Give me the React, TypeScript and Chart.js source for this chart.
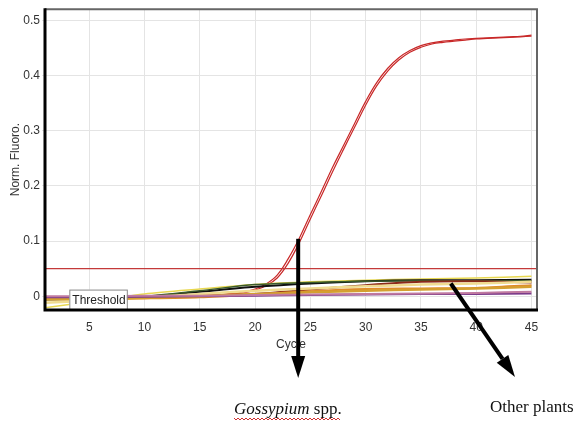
import React, { useEffect, useRef } from "react";
import Chart from "chart.js/auto";

const redCycles = [1,2,3,4,5,6,7,8,9,10,11,12,13,14,15,16,17,18,19,20,21,22,23,24,25,26,27,28,29,30,31,32,33,34,35,36,37,38,39,40,41,42,43,44,45];
const gossypiumA = [-0.004,-0.004,-0.004,-0.003,-0.003,-0.003,-0.002,-0.002,-0.002,-0.001,-0.001,-0.001,0,0,0.001,0.002,0.003,0.005,0.008,0.013,0.022,0.038,0.068,0.105,0.148,0.19,0.233,0.273,0.313,0.353,0.387,0.413,0.432,0.445,0.454,0.459,0.462,0.464,0.466,0.467,0.468,0.469,0.47,0.471,0.473];
const gossypiumB = [-0.005,-0.005,-0.004,-0.004,-0.003,-0.003,-0.003,-0.002,-0.002,-0.002,-0.001,-0.001,0,0,0.001,0.001,0.002,0.004,0.006,0.011,0.019,0.033,0.06,0.097,0.14,0.182,0.225,0.266,0.306,0.346,0.381,0.408,0.428,0.442,0.451,0.457,0.46,0.462,0.464,0.466,0.467,0.468,0.469,0.47,0.471];

const baseCycles = [1, 5, 10, 15, 20, 25, 30, 35, 40, 45];
const plantYellow = [-0.021, -0.01, 0.004, 0.013, 0.021, 0.026, 0.029, 0.031, 0.033, 0.036];
const plantBlack = [-0.006, -0.004, -0.001, 0.008, 0.017, 0.023, 0.027, 0.029, 0.029, 0.03];
const plantGreen = [-0.005, -0.003, 0.0, 0.01, 0.021, 0.025, 0.027, 0.028, 0.028, 0.028];
const plantBrown = [-0.003, -0.003, -0.002, 0.0, 0.004, 0.012, 0.02, 0.026, 0.027, 0.025];
const plantOrange = [-0.004, -0.005, -0.004, -0.002, 0.003, 0.009, 0.013, 0.014, 0.015, 0.02];
const plantGold = [-0.006, -0.005, -0.003, 0.0, 0.004, 0.007, 0.01, 0.012, 0.014, 0.017];
const plantPale = [-0.012, -0.008, -0.002, 0.004, 0.01, 0.014, 0.018, 0.021, 0.023, 0.026];
const plantPurple = [-0.002, -0.002, -0.001, 0.0, 0.001, 0.002, 0.003, 0.004, 0.004, 0.005];
const plantMauve = [0.0, 0.0, 0.001, 0.001, 0.002, 0.003, 0.004, 0.005, 0.006, 0.008];

const thresholdCycles = [1, 45.5];
const thresholdValue = 0.05;

const xTicks = [5, 10, 15, 20, 25, 30, 35, 40, 45];
const yTicks = [0, 0.1, 0.2, 0.3, 0.4, 0.5];
const yTickLabels = ["0", "0.1", "0.2", "0.3", "0.4", "0.5"];

const pts = (xs: number[], ys: number[]) => xs.map((x, i) => ({ x, y: ys[i] }));

const overlayPlugin = {
  id: "overlay",
  afterDatasetsDraw(chart: any) {
    const { ctx, chartArea: a, scales } = chart;
    const xs = scales.x, ys = scales.y;
    ctx.save();
    // Threshold label box
    const bx = xs.getPixelForValue(3.2);
    const bx2 = xs.getPixelForValue(8.4);
    const by = ys.getPixelForValue(0.012);
    ctx.fillStyle = "#ffffff";
    ctx.fillRect(bx, by, bx2 - bx, 20);
    ctx.strokeStyle = "#888";
    ctx.lineWidth = 1;
    ctx.strokeRect(bx + 0.5, by + 0.5, bx2 - bx, 20);
    ctx.fillStyle = "#222";
    ctx.font = "12px 'Liberation Sans', Arial, sans-serif";
    ctx.textBaseline = "middle";
    ctx.textAlign = "left";
    ctx.fillText("Threshold", bx + 3, by + 11);

    // borders
    ctx.strokeStyle = "#666";
    ctx.lineWidth = 2;
    ctx.beginPath();
    ctx.moveTo(a.left, a.top);
    ctx.lineTo(a.right, a.top);
    ctx.lineTo(a.right, a.bottom);
    ctx.stroke();
    ctx.strokeStyle = "#000";
    ctx.lineWidth = 3;
    ctx.beginPath();
    ctx.moveTo(a.left, a.top - 1);
    ctx.lineTo(a.left, a.bottom);
    ctx.lineTo(a.right + 1, a.bottom);
    ctx.stroke();
    ctx.restore();
  },
  afterDraw(chart: any) {
    const { ctx, scales } = chart;
    const xs = scales.x, ys = scales.y;
    ctx.save();
    const arrow = (x1: number, y1: number, x2: number, y2: number) => {
      const ang = Math.atan2(y2 - y1, x2 - x1);
      const headLen = 22, headW = 7;
      const bxp = x2 - headLen * Math.cos(ang);
      const byp = y2 - headLen * Math.sin(ang);
      ctx.strokeStyle = "#000";
      ctx.lineWidth = 4;
      ctx.beginPath();
      ctx.moveTo(x1, y1);
      ctx.lineTo(bxp, byp);
      ctx.stroke();
      ctx.fillStyle = "#000";
      ctx.beginPath();
      ctx.moveTo(x2, y2);
      ctx.lineTo(bxp + headW * Math.sin(ang), byp - headW * Math.cos(ang));
      ctx.lineTo(bxp - headW * Math.sin(ang), byp + headW * Math.cos(ang));
      ctx.closePath();
      ctx.fill();
    };
    const ax = xs.getPixelForValue(23.9);
    arrow(ax, ys.getPixelForValue(0.104), ax, 378);
    arrow(xs.getPixelForValue(37.7), ys.getPixelForValue(0.023), 515, 377);

    // captions
    ctx.fillStyle = "#111";
    ctx.textBaseline = "alphabetic";
    ctx.textAlign = "left";
    ctx.font = "italic 17px 'Liberation Serif', 'Times New Roman', serif";
    const gx = 234, gy = 414;
    ctx.fillText("Gossypium", gx, gy);
    const w1 = ctx.measureText("Gossypium").width;
    ctx.font = "17px 'Liberation Serif', 'Times New Roman', serif";
    ctx.fillText(" spp.", gx + w1, gy);
    const w2 = ctx.measureText(" spp.").width;
    // wavy underline
    ctx.strokeStyle = "#d03030";
    ctx.lineWidth = 1;
    ctx.beginPath();
    let up = true;
    for (let x = gx; x <= gx + w1 + w2; x += 2) {
      const yy = gy + (up ? 4 : 6);
      if (x === gx) ctx.moveTo(x, yy); else ctx.lineTo(x, yy);
      up = !up;
    }
    ctx.stroke();
    ctx.fillStyle = "#111";
    ctx.font = "17px 'Liberation Serif', 'Times New Roman', serif";
    ctx.fillText("Other plants", 490, 412);
    ctx.restore();
  },
};

export default function App() {
  const ref = useRef<HTMLCanvasElement>(null);
  useEffect(() => {
    if (!ref.current) return;
    const line = (data: any, color: string, width = 2, tension = 0.3) => ({
      data,
      borderColor: color,
      borderWidth: width,
      pointRadius: 0,
      tension,
      fill: false,
    });
    const chart = new Chart(ref.current, {
      type: "line",
      data: {
        datasets: [
          line(pts(thresholdCycles, [thresholdValue, thresholdValue]), "#c43a3a", 1.2, 0),
          line(pts(baseCycles, plantMauve), "#c07aa0"),
          line(pts(baseCycles, plantPurple), "#7a3a8a"),
          line(pts(baseCycles, plantGold), "#d4a030", 2.5),
          line(pts(baseCycles, plantOrange), "#e08a2a"),
          line(pts(baseCycles, plantPale), "#f0dc90", 2.5),
          line(pts(baseCycles, plantBrown), "#8b2a1a"),
          line(pts(baseCycles, plantGreen), "#3a5a2a", 1.5),
          line(pts(baseCycles, plantBlack), "#111111"),
          line(pts(baseCycles, plantYellow), "#e8d850", 1.5),
          line(pts(redCycles, gossypiumB), "#c82828", 1.2, 0.4),
          line(pts(redCycles, gossypiumA), "#c82828", 1.2, 0.4),
        ],
      },
      options: {
        animation: false,
        responsive: false,
        devicePixelRatio: 1,
        layout: { padding: { top: 4, right: 38, bottom: 69, left: 0 } },
        plugins: { legend: { display: false }, tooltip: { enabled: false } },
        scales: {
          x: {
            type: "linear",
            min: 1,
            max: 45.5,
            afterBuildTicks: (s: any) => { s.ticks = xTicks.map((v) => ({ value: v })); },
            afterFit: (s: any) => { s.height = 42; },
            grid: { color: "#e4e4e4", drawTicks: false },
            border: { display: false },
            ticks: { padding: 10, color: "#333", font: { size: 12, family: "'Liberation Sans', Arial, sans-serif" } },
            title: { display: true, text: "Cycle", color: "#333", padding: { top: 0, bottom: 0 }, font: { size: 12, family: "'Liberation Sans', Arial, sans-serif" } },
          },
          y: {
            type: "linear",
            min: -0.025,
            max: 0.52,
            afterBuildTicks: (s: any) => { s.ticks = yTicks.map((v) => ({ value: v })); },
            afterFit: (s: any) => { s.width = 45; },
            grid: { color: "#e4e4e4", drawTicks: true, tickLength: 3 },
            border: { display: false },
            ticks: {
              padding: 2,
              color: "#333",
              font: { size: 12, family: "'Liberation Sans', Arial, sans-serif" },
              callback: (_v: any, i: number) => yTickLabels[i],
            },
            title: { display: true, text: "Norm. Fluoro.", color: "#333", padding: { top: 8, bottom: 0 }, font: { size: 12, family: "'Liberation Sans', Arial, sans-serif" } },
          },
        },
      },
      plugins: [overlayPlugin],
    } as any);
    return () => chart.destroy();
  }, []);
  return (
    <div style={{ position: "absolute", left: 0, top: 0, width: 575, height: 421, background: "#fff" }}>
      <canvas ref={ref} width={575} height={421} style={{ width: 575, height: 421, display: "block" }} />
    </div>
  );
}
